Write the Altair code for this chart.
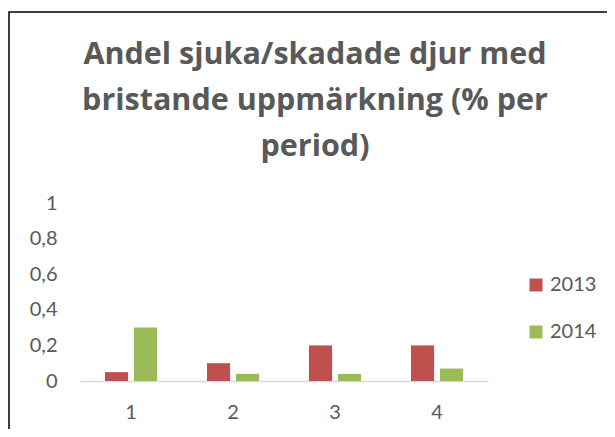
import altair as alt
import pandas as pd

periods = ["1", "2", "3", "4"]
years = ["2013", "2014"]
values_2013 = [0.05, 0.1, 0.2, 0.2]
values_2014 = [0.3, 0.04, 0.04, 0.07]
title_lines = ["Andel sjuka/skadade djur med", "bristande uppmärkning (% per", "period)"]
colors = ["#C0504D", "#9BBB59"]

rows = []
for p, a, b in zip(periods, values_2013, values_2014):
    rows.append({"period": p, "year": years[0], "value": a})
    rows.append({"period": p, "year": years[1], "value": b})
df = pd.DataFrame(rows)

FONT = "Lato"
GREY = "#595959"

bars = alt.Chart(df).mark_bar().encode(
    x=alt.X("period:N", sort=periods,
            scale=alt.Scale(paddingInner=0.49, paddingOuter=0.245),
            axis=alt.Axis(title=None, labelAngle=0, ticks=False, domain=True,
                          domainColor="#D9D9D9", domainWidth=1.5,
                          labelFont=FONT, labelFontSize=20, labelColor=GREY,
                          labelPadding=21)),
    xOffset=alt.XOffset("year:N", sort=years,
                        scale=alt.Scale(paddingInner=0.2, paddingOuter=0)),
    y=alt.Y("value:Q", scale=alt.Scale(domain=[0, 1], nice=False),
            axis=alt.Axis(title=None, values=[0, 0.2, 0.4, 0.6, 0.8, 1],
                          labelExpr="replace(format(datum.value, '~g'), '.', ',')",
                          ticks=False, domain=False, grid=False,
                          labelFont=FONT, labelFontSize=20, labelColor=GREY,
                          labelPadding=23)),
    color=alt.Color("year:N", sort=years,
                    scale=alt.Scale(domain=years, range=colors),
                    legend=alt.Legend(title=None, orient="none", legendX=446, legendY=72,
                                      symbolType="square", symbolSize=169,
                                      symbolStrokeWidth=0,
                                      labelFont=FONT, labelFontSize=20, labelColor=GREY,
                                      labelOffset=4, rowPadding=27, padding=0)),
)

border = alt.Chart(alt.Data(values=[{}])).mark_rect(
    fill=None, stroke="black", strokeWidth=1.5
).encode(
    x=alt.value(-71), x2=alt.value(600), y=alt.value(-191), y2=alt.value(300)
)

chart = alt.layer(border, bars).properties(
    width=408, height=178,
    padding={"left": 72, "top": 195, "right": 119, "bottom": 48},
    autosize=alt.AutoSizeParams(type="none"),
    title=alt.TitleParams(text=title_lines, font="Open Sans", fontSize=30.5, fontWeight="bold",
                          color=GREY, lineHeight=46, anchor="middle", dx=31, offset=20,
                          dy=171),
).configure_view(stroke=None)

chart.save("out.html", embed_options={"renderer": "svg", "actions": False})
